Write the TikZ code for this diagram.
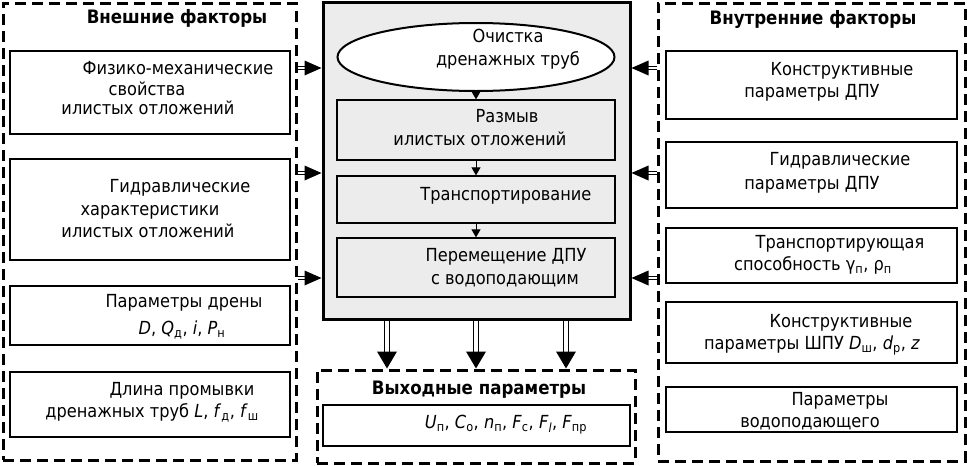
\documentclass[tikz,border=0pt]{standalone}
\usepackage{fontspec}
\setmainfont{DejaVu Sans Condensed}
\usetikzlibrary{arrows.meta,shapes.geometric}
\newcommand{\mysb}[1]{\textsubscript{#1}}
\begin{document}
\begin{tikzpicture}[x=1pt,y=-1pt,
  box/.style={draw, line width=1.3pt, inner sep=0pt, fill=white},
  gbox/.style={draw, line width=1.3pt, inner sep=0pt, fill=gray!15},
  grp/.style={draw, line width=3pt, dash pattern=on 11pt off 6pt, inner sep=0pt},
  txt/.style={font=\fontsize{18}{21}\selectfont, inner sep=0pt, anchor=mid},
  ttl/.style={font=\fontsize{18.5}{21}\selectfont\bfseries, inner sep=0pt, anchor=mid},
  inshaft/.style={double, double distance=2.5pt, line width=1.2pt, shorten >=15pt},
  outshaft/.style={double, double distance=3.5pt, line width=1.4pt, shorten >=15pt},
  smarr/.style={line width=1pt, -{Triangle[length=8pt,width=9pt]}}
]
\useasboundingbox (0,0) rectangle (967,466);
\fill[white] (0,0) rectangle (967,466);

% groups
\node[grp, minimum width=293pt, minimum height=457pt] (LG) at (149.5,231.5) {};
\node[grp, minimum width=307pt, minimum height=458pt] (RG) at (811.5,232) {};
\node[grp, minimum width=318pt, minimum height=93pt] (OG) at (476,416.5) {};

% central box
\node[draw, line width=3pt, fill=gray!15, minimum width=307pt, minimum height=317pt, inner sep=0pt] (C) at (476.5,161) {};
\node[draw, line width=2pt, fill=white, ellipse, minimum width=277pt, minimum height=68pt, inner sep=0pt] (E) at (476,57) {};
\node[gbox, minimum width=278pt, minimum height=60pt] (B1) at (476,130) {};
\node[gbox, minimum width=278pt, minimum height=47pt] (B2) at (476,199.5) {};
\node[gbox, minimum width=278pt, minimum height=59pt] (B3) at (476,267.5) {};

\draw[smarr] (E.south) -- (B1.north);
\draw[smarr] (B1.south) -- (B2.north);
\draw[smarr] (B2.south) -- (B3.north);

\node[txt] (e1) at (508,40) {Очистка};
\node[txt] (e2) at (508,63) {дренажных труб};
\node[txt] (b11) at (507,120) {Размыв};
\node[txt] (b12) at (480,143) {илистых отложений};
\node[txt] (b21) at (506,198) {Транспортирование};
\node[txt] (b31) at (506,259) {Перемещение ДПУ};
\node[txt] (b32) at (505,282) {с водоподающим};

% left boxes
\node[ttl] (LT) at (177,21) {Внешние факторы};
\node[box, minimum width=280pt, minimum height=83pt] (L1) at (150,92.5) {};
\node[box, minimum width=280pt, minimum height=101pt] (L2) at (150,209.5) {};
\node[box, minimum width=280pt, minimum height=59pt] (L3) at (150,315.5) {};
\node[box, minimum width=280pt, minimum height=65pt] (L4) at (150,404.5) {};
\node[txt] (l11) at (178,72) {Физико-механические};
\node[txt] (l12) at (147,93) {свойства};
\node[txt] (l13) at (148,112) {илистых отложений};
\node[txt] (l21) at (180,190) {Гидравлические};
\node[txt] (l22) at (150,213) {характеристики};
\node[txt] (l23) at (148,235) {илистых отложений};
\node[txt] (l31) at (184,305) {Параметры дрены};
\node[txt] (l32) at (182,332) {\textit{D}, \textit{Q}\mysb{д}, \textit{i}, \textit{P}\mysb{н}};
\node[txt] (l41) at (182,393) {Длина промывки};
\node[txt] (l42) at (152,415) {дренажных труб \textit{L}, \textit{f}\mysb{д}, \textit{f}\mysb{ш}};

% right boxes
\node[ttl] (RT) at (813,22) {Внутренние факторы};
\node[box, minimum width=291pt, minimum height=68pt] (R1) at (811.5,85) {};
\node[box, minimum width=291pt, minimum height=66pt] (R2) at (811.5,175) {};
\node[box, minimum width=291pt, minimum height=55pt] (R3) at (811.5,255.5) {};
\node[box, minimum width=291pt, minimum height=61pt] (R4) at (811.5,332.5) {};
\node[box, minimum width=291pt, minimum height=45pt] (R5) at (811.5,409.5) {};
\node[txt] (r11) at (842,73) {Конструктивные};
\node[txt] (r12) at (812,95) {параметры ДПУ};
\node[txt] (r21) at (840,163) {Гидравлические};
\node[txt] (r22) at (812,187) {параметры ДПУ};
\node[txt] (r31) at (840,246) {Транспортирующая};
\node[txt] (r32) at (813,268) {способность γ\mysb{п}, ρ\mysb{п}};
\node[txt] (r41) at (841,325) {Конструктивные};
\node[txt] (r42) at (812,347) {параметры ШПУ \textit{D}\mysb{ш}, \textit{d}\mysb{р}, \textit{z}};
\node[txt] (r51) at (840,403) {Параметры};
\node[txt] (r52) at (810,425) {водоподающего};

% output
\node[ttl] (OT) at (479,392) {Выходные параметры};
\node[box, minimum width=307pt, minimum height=41pt] (O1) at (476.5,425.5) {};
\node[txt] (o11) at (506,426) {\textit{U}\mysb{п}, \textit{C}\mysb{о}, \textit{n}\mysb{п}, \textit{F}\mysb{с}, \textit{F}\mysb{\textit{l}}, \textit{F}\mysb{пр}};

% arrows
\coordinate (h1) at (0,68);
\coordinate (h2) at (0,173);
\coordinate (h3) at (0,278);
\foreach \h in {h1,h2,h3} {
  \draw[inshaft] (LG.east |- \h) -- (C.west |- \h);
  \fill (C.west |- \h) -- ++(-17,7.5) -- ++(0,-15) -- cycle;
  \draw[inshaft] (RG.west |- \h) -- (C.east |- \h);
  \fill (C.east |- \h) -- ++(17,7.5) -- ++(0,-15) -- cycle;
}
\coordinate (v1) at (387,0);
\coordinate (v2) at (476,0);
\coordinate (v3) at (566,0);
\foreach \v in {v1,v2,v3} {
  \draw[outshaft] (C.south -| \v) -- (OG.north -| \v);
  \fill (OG.north -| \v) -- ++(-10,-17) -- ++(20,0) -- cycle;
}
\end{tikzpicture}
\end{document}
